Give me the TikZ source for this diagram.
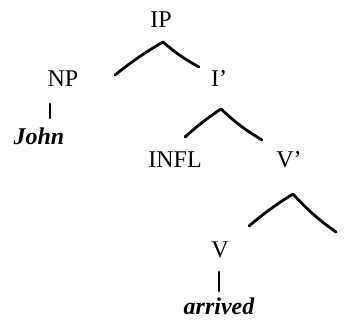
\documentclass[tikz,border=0pt]{standalone}
\usepackage{fontspec}
\setmainfont{Liberation Serif}
\usetikzlibrary{positioning}
\tikzset{
  catnode/.style={inner sep=1pt, font=\fontsize{12}{14}\selectfont},
  wordnode/.style={inner sep=1pt, font=\fontsize{12}{14}\selectfont\itshape\bfseries},
  branch/.style={line width=1.4pt, line cap=round, line join=round},
}
\begin{document}
\begin{tikzpicture}[x=0.5pt, y=-0.5pt]
  \useasboundingbox (0,0) rectangle (346,320);

  %% ---- categories ----
  \node[catnode] (ip)   at (161,20)  {IP};
  \node[catnode] (np)   at (63,79)   {NP};
  \node[catnode] (ibar) at (219,79)  {I'};
  \node[catnode] (infl) at (175,160) {INFL};
  \node[catnode] (vbar) at (289,160) {V'};
  \node[catnode] (v)    at (220,250) {V};

  %% ---- words ----
  \node[wordnode] (john)    at (39,136)  {John};
  \node[wordnode] (arrived) at (219,306) {arrived};

  %% ---- branch ends ----
  \coordinate (ipPeak)  at (163,42);
  \coordinate (ipL)     at (115,75);
  \coordinate (ipR)     at (199,67);
  \coordinate (ibPeak)  at (221,109);
  \coordinate (ibL)     at (185,137);
  \coordinate (ibR)     at (262,140);
  \coordinate (vbPeak)  at (293,194);
  \coordinate (vbL)     at (249,226);
  \coordinate (vbR)     at (336,232);
  \coordinate (npTop)   at (50,104);
  \coordinate (npBot)   at (50,118);
  \coordinate (vTop)    at (219,272);
  \coordinate (vBot)    at (219,291);

  %% ---- branches ----
  \draw[branch] (ipL) to[bend left=4] (ipPeak) to[bend right=6] (ipR);
  \draw[branch] (ibL) to[bend left=4] (ibPeak) to[bend right=6] (ibR);
  \draw[branch] (vbL) to[bend left=4] (vbPeak) to[bend right=6] (vbR);
  \draw[branch] (npTop) -- (npBot);
  \draw[branch] (vTop) -- (vBot);
\end{tikzpicture}
\end{document}
